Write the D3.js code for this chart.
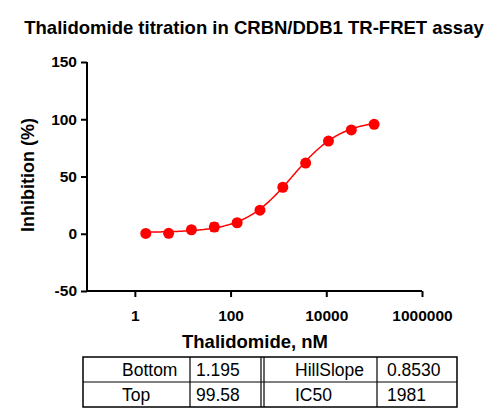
<!DOCTYPE html>
<html><head><meta charset="utf-8">
<script src="https://cdn.jsdelivr.net/npm/d3@7"></script>
<style>body{margin:0;background:#fff}svg{display:block}</style>
</head><body>
<svg id="c" width="500" height="420"></svg>
<script>
const concentrations = [1.69, 5.08, 15.2, 45.7, 137, 412, 1235, 3704, 11111, 33333, 100000];
const inhibition = [0.3, 0.4, 3.5, 5.8, 9.6, 20.6, 40.6, 61.7, 80.9, 90.7, 95.6];
const errors = [0, 0, 0, 3.5, 0, 0, 0, 0, 0, 0, 0];
const xTicks = [1, 100, 10000, 1000000];
const yTicks = [-50, 0, 50, 100, 150];
const fitNames = ["Bottom", "Top", "HillSlope", "IC50"];
const fitValues = ["1.195", "99.58", "0.8530", "1981"];
const fitBottom = 1.195, fitTop = 99.58, fitHill = 0.853, fitIC50 = 1981;

const svg = d3.select("#c");
const font = "'Liberation Sans', Arial, sans-serif";
const x = d3.scaleLog().domain([0.1, 1000000]).range([87, 422]);
const y = d3.scaleLinear().domain([-50, 150]).range([291, 62]);

svg.append("text").attr("x", 254).attr("y", 34).attr("text-anchor", "middle")
  .attr("font-family", font).attr("font-weight", "bold").attr("font-size", 18.5)
  .text("Thalidomide titration in CRBN/DDB1 TR-FRET assay");

const xAxis = svg.append("g").attr("transform", "translate(0,291)")
  .call(d3.axisBottom(x).tickValues(xTicks).tickFormat(d3.format("d")).tickSizeOuter(0).tickSize(6).tickPadding(13));
const yAxis = svg.append("g").attr("transform", "translate(87,0)")
  .call(d3.axisLeft(y).tickValues(yTicks).tickSizeOuter(0).tickSize(6).tickPadding(4));
[xAxis, yAxis].forEach(a => {
  a.selectAll("path,line").attr("stroke", "#000").attr("stroke-width", 2);
  a.selectAll("text").attr("font-family", font).attr("font-weight", "bold").attr("font-size", 15.5).attr("fill", "#000");
});
xAxis.select("path.domain").attr("d", "M87,0H422");
yAxis.select("path.domain").attr("d", "M0,62V292");
yAxis.selectAll("text").text(d => d < 0 ? "-" + Math.abs(d) : d);

svg.append("text").attr("x", 255).attr("y", 348).attr("text-anchor", "middle")
  .attr("font-family", font).attr("font-weight", "bold").attr("font-size", 18.5)
  .text("Thalidomide, nM");
svg.append("text").attr("transform", "translate(34,175) rotate(-90)").attr("text-anchor", "middle")
  .attr("font-family", font).attr("font-weight", "bold").attr("font-size", 18)
  .text("Inhibition (%)");

// fitted 4PL curve from the reported parameters
const lo = Math.log10(concentrations[0]), hi = Math.log10(concentrations[concentrations.length - 1]);
const curveX = d3.range(0, 201).map(i => Math.pow(10, lo + i * (hi - lo) / 200));
const model = c => fitBottom + (fitTop - fitBottom) / (1 + Math.pow(fitIC50 / c, fitHill));
svg.append("path").datum(curveX)
  .attr("d", d3.line().x(c => x(c)).y(c => y(model(c))))
  .attr("fill", "none").attr("stroke", "#ff0000").attr("stroke-width", 1.5);

const pts = concentrations.map((c, i) => ({c, v: inhibition[i], e: errors[i]}));
const eb = svg.append("g").attr("stroke", "#ff0000").attr("stroke-width", 1.5);
pts.filter(p => p.e > 0).forEach(p => {
  eb.append("line").attr("x1", x(p.c)).attr("x2", x(p.c)).attr("y1", y(p.v - p.e)).attr("y2", y(p.v + p.e));
  [p.v - p.e, p.v + p.e].forEach(v => eb.append("line").attr("x1", x(p.c) - 4).attr("x2", x(p.c) + 4).attr("y1", y(v)).attr("y2", y(v)));
});
svg.append("g").selectAll("circle").data(pts).join("circle")
  .attr("cx", p => x(p.c)).attr("cy", p => y(p.v)).attr("r", 5.5).attr("fill", "#ff0000");

// parameter table
const t = svg.append("g");
const tl = 83, tr = 457, tt = 357, tm = 382, tb = 407;
const cols = [190, 261, 264, 377];
t.append("rect").attr("x", tl).attr("y", tt).attr("width", tr - tl).attr("height", tb - tt)
  .attr("fill", "none").attr("stroke", "#000").attr("stroke-width", 1.5);
t.append("line").attr("x1", tl).attr("x2", tr).attr("y1", tm).attr("y2", tm).attr("stroke", "#000").attr("stroke-width", 1);
cols.forEach(cx => t.append("line").attr("x1", cx).attr("x2", cx).attr("y1", tt).attr("y2", tb).attr("stroke", "#000").attr("stroke-width", 1.2));
const cellX = [[122, 196], [295, 387]];
fitNames.forEach((n, i) => {
  const g = Math.floor(i / 2), r = i % 2;
  const by = (r === 0 ? tt : tm) + 19;
  t.append("text").attr("x", cellX[g][0]).attr("y", by).attr("font-family", font).attr("font-size", 17.5).text(n);
  t.append("text").attr("x", cellX[g][1]).attr("y", by).attr("font-family", font).attr("font-size", 17.5).text(fitValues[i]);
});
</script>
</body></html>
